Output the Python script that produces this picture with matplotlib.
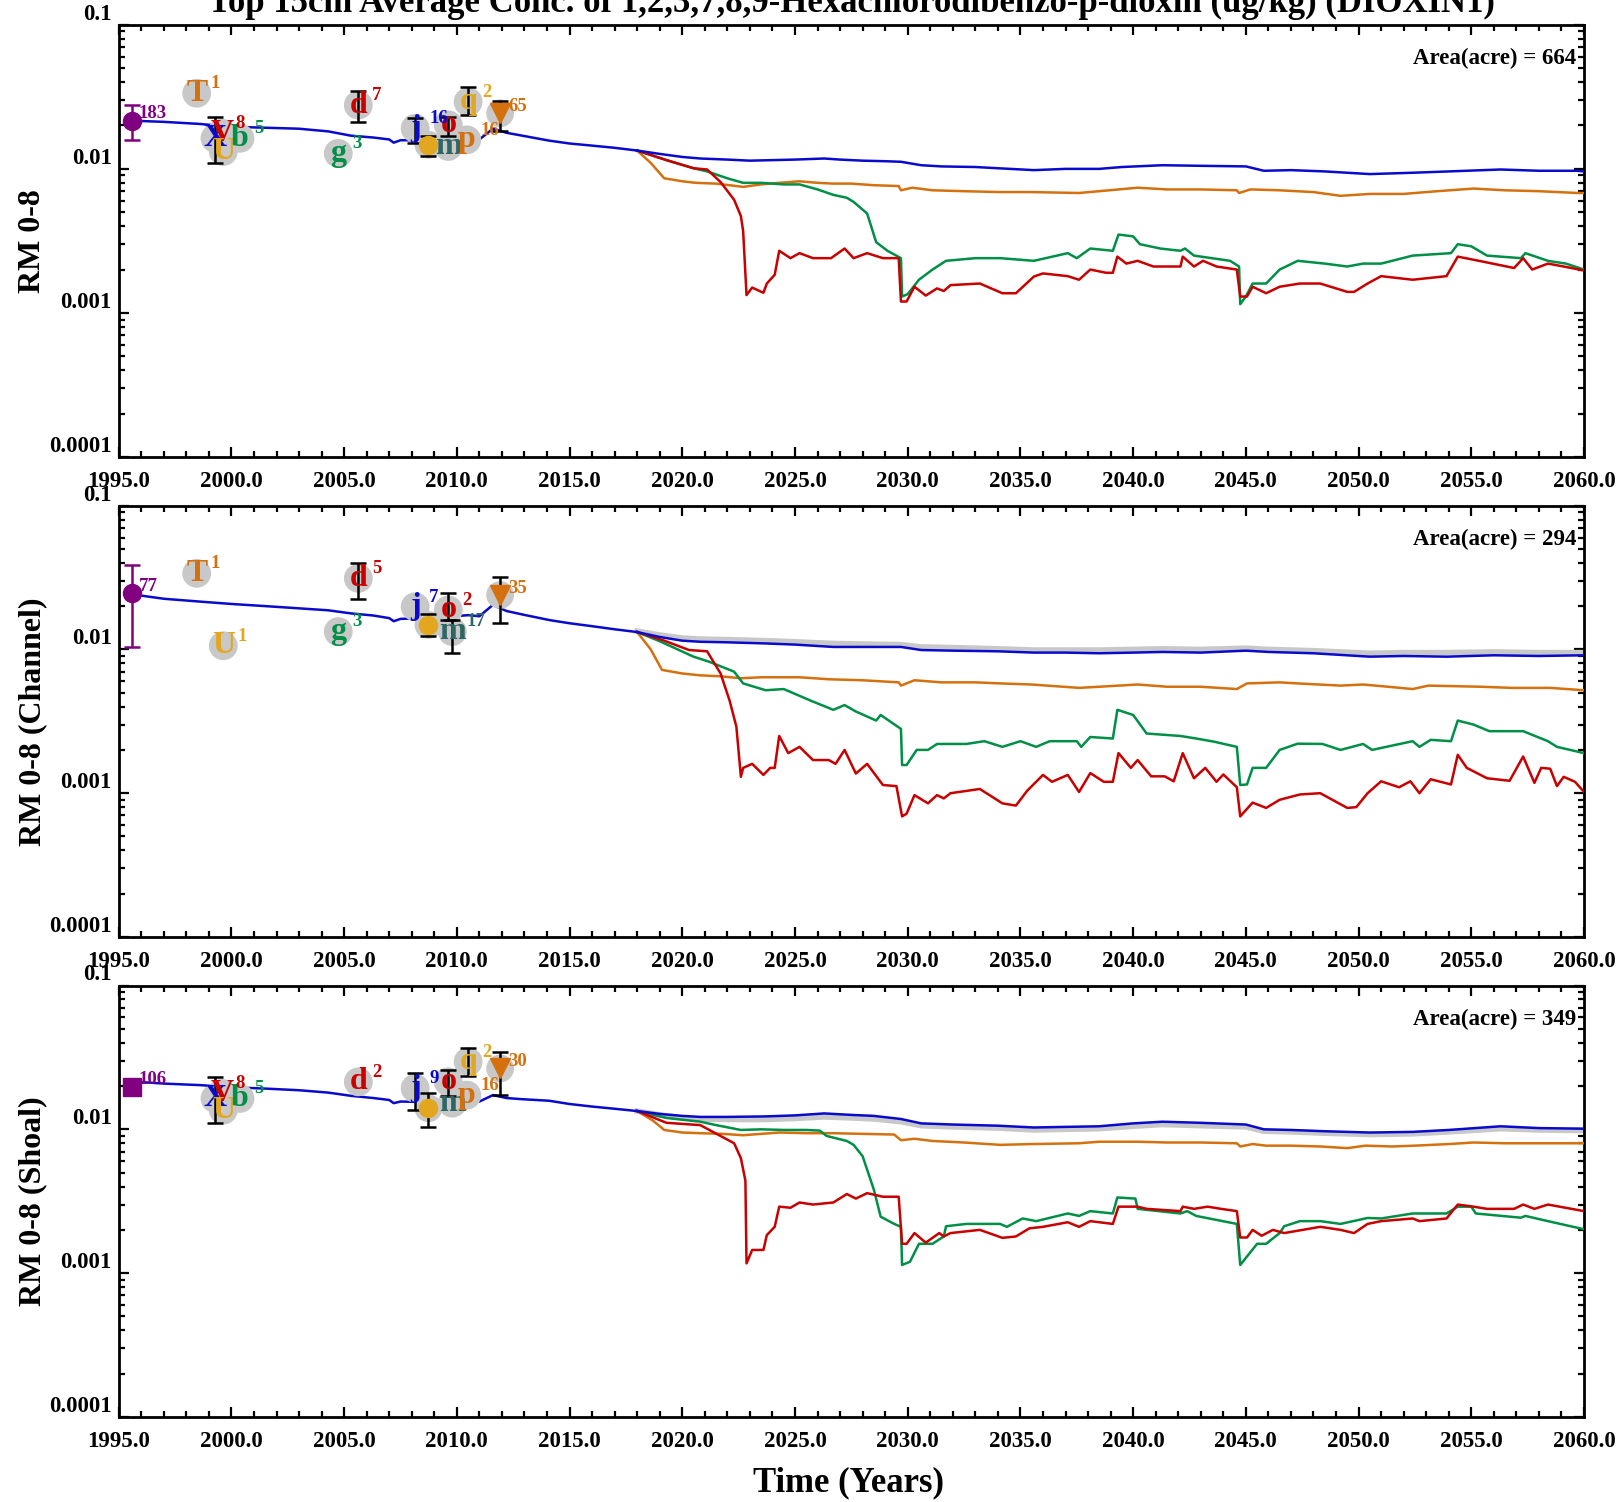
import numpy as np
import matplotlib
matplotlib.use("Agg")
import matplotlib.pyplot as plt
from matplotlib.ticker import FixedLocator, MultipleLocator, FuncFormatter, LogLocator, NullFormatter

plt.rcParams['font.family'] = ['Liberation Serif', 'DejaVu Serif']
plt.rcParams['font.weight'] = 'bold'

nan = np.nan

title = "Top 15cm Average Conc. of 1,2,3,7,8,9-Hexachlorodibenzo-p-dioxin (ug/kg) (DIOXIN1)"
panel_ylabels = ["RM 0-8", "RM 0-8 (Channel)", "RM 0-8 (Shoal)"]
panel_areas = [664, 294, 349]
x_label = "Time (Years)"
y_tick_values = [1e-4, 1e-3, 1e-2, 1e-1]
y_tick_labels = ["0.0001", "0.001", "0.01", "0.1"]

# ---------------- Panel 1 (RM 0-8) ----------------
hist1_t = [1995.6, 1997.0, 1998.6, 2000.0, 2001.5, 2003.0, 2004.3, 2005.3, 2006.3, 2007.0, 2007.2, 2007.5,
           2008.2, 2009.0, 2010.5, 2011.0, 2011.6, 2012.2, 2012.9, 2014.1, 2015.0, 2016.0, 2017.0, 2018.0]
hist1_v = [0.0216, 0.0212, 0.0205, 0.0196, 0.0193, 0.0190, 0.0182, 0.0170, 0.0165, 0.0160, 0.0152, 0.0158,
           0.0158, 0.0160, 0.0163, 0.0160, 0.0190, 0.0178, 0.0170, 0.0157, 0.0150, 0.0145, 0.0140, 0.0134]
blue1_t = [2018, 2019, 2020, 2020.8, 2022, 2023, 2024, 2025, 2026.3, 2027, 2028, 2029, 2029.7, 2030.6, 2031.5,
           2033, 2034, 2035.6, 2037, 2038.5, 2039.5, 2041.3, 2043, 2045.0, 2045.8, 2047, 2048.5, 2050.5, 2052.4,
           2054, 2056.3, 2058, 2059.7, 2060]
blue1_v = [0.0134, 0.0127, 0.0121, 0.0118, 0.0116, 0.0114, 0.0115, 0.0116, 0.0118, 0.0116, 0.0114, 0.0113,
           0.0112, 0.0106, 0.0104, 0.0103, 0.0101, 0.0098, 0.0100, 0.0100, 0.0103, 0.0106, 0.0105, 0.0104,
           0.0097, 0.0098, 0.0096, 0.0092, 0.0094, 0.0096, 0.0099, 0.0097, 0.0097, 0.0096]
orange1_t = [2018, 2018.6, 2019.2, 2020, 2020.6, 2021.5, 2022.7, 2023.5, 2024.3, 2025.2, 2026, 2026.7, 2027.5,
             2028.5, 2029.6, 2029.7, 2030.2, 2031.1, 2032.5, 2034.1, 2035.5, 2037.6, 2038.5, 2040.2, 2041.5,
             2043, 2044.6, 2044.7, 2045.2, 2046.5, 2048, 2049.2, 2050.5, 2052, 2053.5, 2055.1, 2056.5, 2058,
             2059.7, 2060]
orange1_v = [0.0134, 0.0110, 0.0086, 0.0082, 0.0080, 0.0079, 0.0075, 0.0078, 0.0080, 0.0082, 0.0080, 0.0079,
             0.0079, 0.0077, 0.0076, 0.0071, 0.0074, 0.0071, 0.0070, 0.0069, 0.0069, 0.0068, 0.0070, 0.0074,
             0.0072, 0.0072, 0.0071, 0.0068, 0.0072, 0.0071, 0.0069, 0.0065, 0.0067, 0.0067, 0.0070, 0.0073,
             0.0071, 0.0070, 0.0068, 0.0068]
green1_t = [2018, 2019.3, 2020.5, 2021.1, 2022.0, 2022.7, 2023.5, 2024.5, 2025.2, 2026, 2026.7, 2027.3, 2027.6,
            2028.2, 2028.6, 2029.1, 2029.7, 2029.75, 2030.0, 2030.5, 2031.1, 2031.7, 2033, 2034.1, 2035.6,
            2037.1, 2037.5, 2038.1, 2039.1, 2039.35, 2040.0, 2040.3, 2041.2, 2042.1, 2042.3, 2042.7, 2044.3,
            2044.7, 2044.75, 2045.0, 2045.3, 2045.9, 2046.5, 2047.3, 2048.5, 2049.5, 2050.2, 2051, 2052.4,
            2054.1, 2054.4, 2055.0, 2055.7, 2057.2, 2057.4, 2058.4, 2059.2, 2060]
green1_v = [0.0134, 0.0115, 0.0101, 0.0096, 0.0086, 0.0080, 0.0080, 0.0078, 0.0078, 0.0072, 0.0066, 0.0063,
            0.0059, 0.0049, 0.0031, 0.0027, 0.0024, 0.0013, 0.00135, 0.0017, 0.0020, 0.0023, 0.0024, 0.0024,
            0.0023, 0.0026, 0.0024, 0.0028, 0.0027, 0.0035, 0.0034, 0.0030, 0.0028, 0.0027, 0.0028, 0.0025,
            0.0023, 0.0021, 0.00115, 0.0013, 0.0016, 0.0016, 0.0020, 0.0023, 0.0022, 0.0021, 0.0022, 0.0022,
            0.0025, 0.0026, 0.0030, 0.0029, 0.0025, 0.0024, 0.0026, 0.0023, 0.0022, 0.0020]
red1_t = [2018, 2019.3, 2020.5, 2021.1, 2021.7, 2022.3, 2022.6, 2022.7, 2022.85, 2023.1, 2023.6, 2023.75,
          2024.1, 2024.3, 2024.8, 2025.2, 2025.8, 2026.6, 2027.2, 2027.6, 2028.2, 2028.9, 2029.6, 2029.7,
          2029.95, 2030.3, 2030.8, 2031.3, 2031.6, 2031.9, 2033.2, 2034.2, 2034.8, 2035.6, 2036.0, 2037.1,
          2037.6, 2038.1, 2038.8, 2039.1, 2039.3, 2039.7, 2040.2, 2040.9, 2042.1, 2042.2, 2042.7, 2043.1,
          2043.7, 2044.6, 2044.75, 2045.05, 2045.3, 2045.9, 2046.5, 2047.4, 2048.3, 2049.5, 2049.8, 2050.4,
          2051.0, 2052.4, 2053.9, 2054.4, 2055.4, 2056.9, 2057.3, 2057.7, 2058.4, 2059.1, 2060]
red1_v = [0.0134, 0.0115, 0.0101, 0.0099, 0.0081, 0.0061, 0.0047, 0.0037, 0.00133, 0.0015, 0.00138, 0.0016,
          0.00184, 0.0027, 0.0024, 0.0026, 0.0024, 0.0024, 0.0028, 0.0024, 0.0026, 0.0024, 0.0024, 0.0012,
          0.0012, 0.00152, 0.00132, 0.00148, 0.00142, 0.00156, 0.0016, 0.00137, 0.00137, 0.00179, 0.00188,
          0.0018, 0.0017, 0.0020, 0.0019, 0.0019, 0.00246, 0.0022, 0.0023, 0.0021, 0.0021, 0.00246, 0.0021,
          0.0023, 0.0021, 0.0020, 0.0013, 0.0013, 0.00152, 0.00137, 0.00152, 0.0016, 0.0016, 0.0014, 0.0014,
          0.0016, 0.0018, 0.0017, 0.0018, 0.00246, 0.00229, 0.00205, 0.0024, 0.0020, 0.0022, 0.0021, 0.00197]

# ---------------- Panel 2 (Channel) ----------------
hist2_t = [1995.8, 1997.0, 1998.6, 2000.0, 2001.5, 2003.0, 2004.3, 2005.3, 2006.3, 2007.0, 2007.2, 2007.5,
           2008.5, 2009.5, 2010.5, 2011.0, 2011.6, 2012.2, 2012.9, 2014.1, 2015.0, 2016.0, 2017.0, 2018.0]
hist2_v = [0.0239, 0.0225, 0.0215, 0.0207, 0.0200, 0.0193, 0.0187, 0.0178, 0.0172, 0.0165, 0.0157, 0.0163,
           0.0165, 0.0168, 0.0173, 0.0170, 0.0204, 0.0185, 0.0175, 0.0160, 0.0152, 0.0145, 0.0138, 0.0132]
blue2_t = [2018, 2019, 2020, 2020.8, 2022, 2023.7, 2025, 2026.7, 2028, 2029.7, 2030.6, 2032, 2034, 2035.6,
           2037, 2038.5, 2040, 2041.3, 2043, 2045.0, 2046, 2048, 2050.5, 2052, 2053.9, 2056, 2058, 2060]
blue2_v = [0.0132, 0.0122, 0.0115, 0.0113, 0.0112, 0.0110, 0.0108, 0.0104, 0.0104, 0.0104, 0.0099, 0.0098,
           0.0097, 0.0095, 0.0095, 0.0094, 0.0095, 0.0096, 0.0095, 0.0098, 0.0096, 0.0094, 0.0089, 0.0090,
           0.0089, 0.0091, 0.0090, 0.0091]
gray2_v = [0.0134, 0.0126, 0.0120, 0.0118, 0.0117, 0.0115, 0.0113, 0.0110, 0.0109, 0.0108, 0.0104, 0.0103,
           0.0101, 0.0099, 0.0099, 0.0099, 0.0100, 0.0101, 0.0100, 0.0102, 0.0100, 0.0098, 0.0094, 0.0095,
           0.0095, 0.0096, 0.0095, 0.0095]
orange2_t = [2018, 2018.6, 2019.1, 2020, 2020.8, 2021.7, 2022.6, 2023.5, 2025.2, 2026.5, 2028, 2029.6, 2029.7,
             2030.3, 2031.5, 2033, 2034.1, 2035.5, 2037.6, 2038.5, 2040.2, 2041.5, 2043, 2044.6, 2045.05,
             2046.5, 2047.3, 2049.2, 2050.2, 2051.3, 2052.4, 2053.1, 2055.4, 2056.8, 2058.5, 2060]
orange2_v = [0.0132, 0.0100, 0.0072, 0.0068, 0.0066, 0.0065, 0.0063, 0.0064, 0.0064, 0.0062, 0.0061, 0.0059,
             0.0056, 0.0061, 0.0059, 0.0059, 0.0058, 0.0057, 0.0054, 0.0055, 0.0057, 0.0055, 0.0055, 0.0053,
             0.0058, 0.0059, 0.0058, 0.0056, 0.0057, 0.0055, 0.0053, 0.0056, 0.0055, 0.0054, 0.0054, 0.0052]
green2_t = [2018, 2019.0, 2020.5, 2021.2, 2022.3, 2022.7, 2023.7, 2024.5, 2025.7, 2026.7, 2027.2, 2027.7,
            2028.6, 2028.8, 2029.7, 2029.75, 2029.95, 2030.4, 2030.9, 2031.3, 2032.6, 2033.4, 2034.2, 2035.0,
            2035.7, 2036.3, 2037.5, 2037.7, 2038.1, 2039.1, 2039.3, 2040.0, 2040.6, 2042.1, 2042.8, 2043.6,
            2044.6, 2044.75, 2045.05, 2045.3, 2045.9, 2046.5, 2047.3, 2048.4, 2049.2, 2050.2, 2050.6, 2052.4,
            2052.7, 2053.2, 2054.1, 2054.4, 2055.1, 2055.8, 2057.3, 2058.4, 2058.8, 2060]
green2_v = [0.0132, 0.0114, 0.0089, 0.0082, 0.0070, 0.0058, 0.0052, 0.0053, 0.0044, 0.0038, 0.0041, 0.0037,
            0.0032, 0.0035, 0.0028, 0.00157, 0.00157, 0.0020, 0.0020, 0.0022, 0.0022, 0.0023, 0.0021, 0.0023,
            0.0021, 0.0023, 0.0023, 0.0021, 0.00246, 0.0024, 0.0038, 0.0035, 0.0026, 0.0025, 0.0024, 0.00228,
            0.0021, 0.00114, 0.00115, 0.0015, 0.0015, 0.0020, 0.00221, 0.0022, 0.0020, 0.0022, 0.0020, 0.0023,
            0.0021, 0.00235, 0.0023, 0.0032, 0.0030, 0.0027, 0.0027, 0.0023, 0.0021, 0.0019]
red2_t = [2018, 2019.2, 2020.3, 2021.1, 2021.7, 2022.1, 2022.4, 2022.6, 2022.7, 2023.1, 2023.6, 2023.9, 2024.1,
          2024.3, 2024.7, 2025.2, 2025.8, 2026.5, 2026.8, 2027.2, 2027.7, 2028.2, 2028.9, 2029.5, 2029.75,
          2029.95, 2030.3, 2030.9, 2031.3, 2031.6, 2031.9, 2033.2, 2034.2, 2034.8, 2035.3, 2036.0, 2036.4,
          2037.1, 2037.6, 2038.1, 2038.7, 2039.1, 2039.35, 2039.9, 2040.2, 2040.8, 2041.4, 2041.8, 2042.2,
          2042.7, 2043.2, 2043.7, 2044.0, 2044.6, 2044.75, 2045.3, 2045.9, 2046.5, 2047.4, 2048.3, 2049.5,
          2049.9, 2050.4, 2051.0, 2051.8, 2052.3, 2052.7, 2053.2, 2054.1, 2054.4, 2054.8, 2055.7, 2056.7,
          2057.3, 2057.8, 2058.1, 2058.5, 2058.8, 2059.1, 2059.6, 2060]
red2_v = [0.0132, 0.0115, 0.0099, 0.0097, 0.0068, 0.0044, 0.0029, 0.0013, 0.0015, 0.0016, 0.00134, 0.0015,
          0.0015, 0.0025, 0.0019, 0.0021, 0.0017, 0.0017, 0.0016, 0.0020, 0.00137, 0.0016, 0.00114, 0.00112,
          0.00069, 0.00072, 0.00097, 0.00085, 0.00097, 0.00092, 0.0010, 0.00107, 0.00085, 0.00082, 0.00104,
          0.00134, 0.0012, 0.00134, 0.00102, 0.00138, 0.0012, 0.0012, 0.0019, 0.0015, 0.0017, 0.00131,
          0.00131, 0.00121, 0.0019, 0.00127, 0.0015, 0.0012, 0.00135, 0.0011, 0.00069, 0.00086, 0.00079,
          0.00090, 0.00098, 0.00100, 0.00079, 0.00080, 0.00100, 0.00121, 0.00110, 0.00121, 0.00100, 0.00125,
          0.00115, 0.00185, 0.0015, 0.00127, 0.00122, 0.0018, 0.00118, 0.0015, 0.00148, 0.00112, 0.0013,
          0.0012, 0.00102]

# ---------------- Panel 3 (Shoal) ----------------
hist3_t = [1995.8, 1997.0, 1998.6, 2000.0, 2001.5, 2003.0, 2004.3, 2005.3, 2006.3, 2007.0, 2007.2, 2007.5,
           2008.5, 2009.5, 2010.5, 2011.0, 2011.6, 2012.2, 2012.9, 2014.1, 2015.0, 2016.0, 2017.0, 2018.0]
hist3_v = [0.0214, 0.0208, 0.0203, 0.0196, 0.0192, 0.0187, 0.0180, 0.0171, 0.0165, 0.0160, 0.0152, 0.0156,
           0.0155, 0.0157, 0.0158, 0.0156, 0.0173, 0.0165, 0.0162, 0.0158, 0.0150, 0.0144, 0.0139, 0.0134]
blue3_t = [2018, 2019, 2020, 2020.8, 2022, 2023.7, 2025, 2026.3, 2027.5, 2028.5, 2029.7, 2030.6, 2032, 2034,
           2035.6, 2037, 2038.5, 2040, 2041.3, 2043, 2045.0, 2045.8, 2047, 2048.5, 2050.5, 2052.4, 2054,
           2056.3, 2058, 2060]
blue3_v = [0.0134, 0.0128, 0.0124, 0.0122, 0.0122, 0.0123, 0.0125, 0.0129, 0.0126, 0.0124, 0.0118, 0.0110,
           0.0108, 0.0106, 0.0103, 0.0104, 0.0105, 0.0110, 0.0113, 0.0111, 0.0108, 0.0100, 0.0099, 0.0097,
           0.0095, 0.0096, 0.0099, 0.0105, 0.0102, 0.0101]
gray3_v = [0.0134, 0.0126, 0.0120, 0.0118, 0.0117, 0.0117, 0.0119, 0.0122, 0.0120, 0.0118, 0.0113, 0.0106,
           0.0104, 0.0102, 0.0099, 0.0100, 0.0101, 0.0105, 0.0108, 0.0106, 0.0104, 0.0097, 0.0096, 0.0094,
           0.0092, 0.0093, 0.0096, 0.0101, 0.0099, 0.0098]
orange3_t = [2018, 2018.7, 2019.2, 2020, 2020.8, 2021.8, 2022.7, 2023.5, 2024.3, 2025.5, 2026.7, 2028, 2029.4,
             2029.7, 2030.3, 2031.1, 2032.5, 2034.1, 2035.5, 2037.6, 2038.5, 2040.2, 2041.5, 2043, 2044.6,
             2044.75, 2045.3, 2045.9, 2047, 2048.3, 2049.5, 2050.3, 2051.5, 2052.5, 2054, 2055.1, 2056.5,
             2058, 2060]
orange3_v = [0.0134, 0.0115, 0.0099, 0.0095, 0.0094, 0.0093, 0.0091, 0.0093, 0.0095, 0.0094, 0.0094, 0.0093,
             0.0092, 0.0084, 0.0086, 0.0083, 0.0081, 0.0078, 0.0079, 0.0080, 0.0082, 0.0082, 0.0081, 0.0081,
             0.0080, 0.0076, 0.0079, 0.0077, 0.0077, 0.0076, 0.0074, 0.0077, 0.0076, 0.0077, 0.0079, 0.0081,
             0.0080, 0.0080, 0.0080]
green3_t = [2018, 2019.3, 2020.8, 2021.5, 2022.6, 2023.5, 2024.5, 2025.5, 2026.1, 2026.4, 2027.3, 2027.6,
            2028.0, 2028.5, 2028.8, 2029.4, 2029.7, 2029.75, 2030.1, 2030.5, 2031.1, 2031.6, 2031.7, 2032.6,
            2034.1, 2034.4, 2035.1, 2035.7, 2037.1, 2037.6, 2038.1, 2039.1, 2039.3, 2040.1, 2040.2, 2042.1,
            2042.4, 2042.8, 2044.6, 2044.75, 2045.5, 2045.9, 2046.5, 2046.7, 2047.4, 2048.3, 2049.2, 2050.4,
            2051.0, 2052.4, 2053.9, 2054.4, 2055.0, 2055.2, 2057.2, 2057.4, 2058.4, 2060]
green3_v = [0.0134, 0.0120, 0.0113, 0.0107, 0.0099, 0.0100, 0.0099, 0.0099, 0.0098, 0.0090, 0.0083, 0.0078,
            0.0065, 0.0038, 0.00247, 0.0022, 0.0021, 0.00114, 0.0012, 0.0016, 0.0016, 0.0018, 0.00212, 0.0022,
            0.0022, 0.0021, 0.0024, 0.0023, 0.0026, 0.0025, 0.0027, 0.0026, 0.00336, 0.0033, 0.0028, 0.0026,
            0.0027, 0.0025, 0.0022, 0.00114, 0.0016, 0.0016, 0.0019, 0.00212, 0.0023, 0.0023, 0.0022, 0.00242,
            0.0024, 0.0026, 0.0026, 0.0029, 0.0029, 0.0026, 0.00243, 0.0025, 0.0023, 0.00202]
red3_t = [2018, 2019.3, 2020.8, 2021.2, 2022.3, 2022.6, 2022.8, 2022.85, 2023.1, 2023.6, 2023.75, 2024.1,
          2024.3, 2024.8, 2025.2, 2025.8, 2026.7, 2027.3, 2027.7, 2028.2, 2028.9, 2029.6, 2029.75, 2029.95,
          2030.3, 2030.8, 2031.4, 2031.6, 2031.9, 2033.2, 2034.2, 2034.8, 2035.4, 2036.0, 2037.1, 2037.6,
          2038.1, 2039.1, 2039.35, 2040.2, 2040.6, 2042.1, 2042.2, 2042.7, 2043.3, 2043.9, 2044.6, 2044.75,
          2045.05, 2045.3, 2045.7, 2046.2, 2046.7, 2048.3, 2049.2, 2049.8, 2050.4, 2051.0, 2052.4, 2052.7,
          2053.9, 2054.4, 2055.1, 2055.7, 2056.9, 2057.3, 2057.8, 2058.4, 2060]
red3_v = [0.0134, 0.0111, 0.0107, 0.0099, 0.0080, 0.0063, 0.0044, 0.00117, 0.00145, 0.00145, 0.00184, 0.0021,
          0.0029, 0.00285, 0.0031, 0.0030, 0.0031, 0.00355, 0.0033, 0.0036, 0.0034, 0.0034, 0.0016, 0.0016,
          0.0019, 0.00163, 0.0019, 0.0018, 0.0019, 0.0020, 0.00176, 0.0018, 0.00205, 0.0021, 0.00226, 0.0021,
          0.0023, 0.0022, 0.0029, 0.0029, 0.0028, 0.0027, 0.0029, 0.0028, 0.0029, 0.0028, 0.0027, 0.00177,
          0.00177, 0.0020, 0.00182, 0.0020, 0.0019, 0.0021, 0.0020, 0.0019, 0.0022, 0.0023, 0.0024, 0.0023,
          0.0024, 0.0030, 0.0029, 0.0028, 0.0028, 0.0030, 0.0028, 0.0030, 0.0027]

# ---------------- Observations ----------------
obs1_labels = ['T', 'X', 'V', 'U', 'b', 'd', 'g', 'j', 'o', 'm', 'p', 'q']
obs1_years = [1998.46, 1999.27, 1999.57, 1999.64, 2000.38, 2005.63, 2004.74, 2008.15, 2009.62, 2009.62, 2010.44, 2010.5]
obs1_vals = [0.0335, 0.0163, 0.0177, 0.0132, 0.0163, 0.0277, 0.0128, 0.0191, 0.0202, 0.0143, 0.0159, 0.0292]
obs1_counts = ['1', '', '8', '', '5', '7', '3', '16', '', '', '16', '2']
obs1_lo = [nan, 0.0109, nan, nan, nan, 0.0213, nan, 0.0150, 0.0170, nan, nan, 0.0235]
obs1_hi = [nan, 0.0230, nan, nan, nan, 0.0349, nan, 0.0224, 0.0230, nan, nan, 0.0368]
spec1 = {'purple': (1995.58, 0.0216, 0.0159, 0.0277, '183'), 'yellow': (2008.74, 0.0147, 0.0122, 0.0170),
         'tri': (2011.92, 0.0243, 0.0184, 0.0297, '65')}

obs2_labels = ['T', 'U', 'd', 'g', 'j', 'o', 'm']
obs2_years = [1998.46, 1999.64, 2005.63, 2004.74, 2008.15, 2009.62, 2009.8]
obs2_vals = [0.0338, 0.0106, 0.0312, 0.0133, 0.0198, 0.0188, 0.0133]
obs2_counts = ['1', '1', '5', '3', '7', '2', '17']
obs2_lo = [nan, nan, 0.0223, nan, nan, 0.0160, 0.0094]
obs2_hi = [nan, nan, 0.0401, nan, nan, 0.0245, 0.0160]
spec2 = {'purple': (1995.58, 0.0245, 0.01045, 0.0386, '77'), 'yellow': (2008.74, 0.0148, 0.0123, 0.0175),
         'tri': (2011.92, 0.0239, 0.0152, 0.0317, '35')}

obs3_labels = ['X', 'V', 'U', 'b', 'd', 'j', 'o', 'm', 'p', 'q']
obs3_years = [1999.27, 1999.57, 1999.64, 2000.38, 2005.63, 2008.15, 2009.62, 2009.8, 2010.44, 2010.5]
obs3_vals = [0.0164, 0.0178, 0.0136, 0.0164, 0.0214, 0.0193, 0.0214, 0.0152, 0.0173, 0.0295]
obs3_counts = ['', '8', '', '5', '2', '9', '', '', '16', '2']
obs3_lo = [0.0111, nan, nan, nan, nan, 0.0136, 0.0170, nan, nan, 0.0236]
obs3_hi = [0.0232, nan, nan, nan, nan, 0.0245, 0.0258, nan, nan, 0.0366]
spec3 = {'purple': (1995.58, 0.0198, nan, nan, '106'), 'yellow': (2008.74, 0.0140, 0.0103, 0.0178),
         'tri': (2011.92, 0.0265, 0.0173, 0.0347, '30')}

# ---------------- Styles ----------------
C_BLUE = '#0A0ACC'
C_ORANGE = '#D5700F'
C_GREEN = '#008F47'
C_RED = '#C80000'
C_GRAY = '#C8C8C8'
C_PURPLE = '#800080'
C_YELLOW = '#E3A71F'
C_TEAL = '#2E6565'
letter_colors = {'T': C_ORANGE, 'X': C_BLUE, 'V': C_RED, 'U': C_YELLOW, 'b': C_GREEN, 'd': C_RED,
                 'g': C_GREEN, 'j': C_BLUE, 'o': C_RED, 'm': C_TEAL, 'p': C_ORANGE, 'q': C_YELLOW}

panels = [
    dict(hist=(hist1_t, hist1_v), blue=(blue1_t, blue1_v), gray=None, orange=(orange1_t, orange1_v),
         green=(green1_t, green1_v), red=(red1_t, red1_v),
         obs=(obs1_labels, obs1_years, obs1_vals, obs1_counts, obs1_lo, obs1_hi), spec=spec1, square=False),
    dict(hist=(hist2_t, hist2_v), blue=(blue2_t, blue2_v), gray=(blue2_t, gray2_v), orange=(orange2_t, orange2_v),
         green=(green2_t, green2_v), red=(red2_t, red2_v),
         obs=(obs2_labels, obs2_years, obs2_vals, obs2_counts, obs2_lo, obs2_hi), spec=spec2, square=False),
    dict(hist=(hist3_t, hist3_v), blue=(blue3_t, blue3_v), gray=(blue3_t, gray3_v), orange=(orange3_t, orange3_v),
         green=(green3_t, green3_v), red=(red3_t, red3_v),
         obs=(obs3_labels, obs3_years, obs3_vals, obs3_counts, obs3_lo, obs3_hi), spec=spec3, square=True),
]

W, H = 1618, 1502
fig = plt.figure(figsize=(W / 100, H / 100), dpi=100)
left_px, right_px = 118.7, 1584
tops = [24.8, 505.6, 985.5]
bots = [457, 937, 1417]


def sup(ax, x, y, s, color, dx=10, dy=7):
    if s:
        ax.annotate(s, (x, y), xytext=(dx, dy), textcoords='offset points', color=color, fontsize=13.5,
                    fontweight='bold', ha='left', va='center', zorder=7)


for i, p in enumerate(panels):
    ax = fig.add_axes([left_px / W, 1 - bots[i] / H, (right_px - left_px) / W, (bots[i] - tops[i]) / H])
    ax.set_yscale('log')
    ax.set_xlim(1995, 2060)
    ax.set_ylim(1e-4, 0.1)

    lw = 1.8
    if p['gray'] is not None:
        ax.plot(p['gray'][0], p['gray'][1], color=C_GRAY, lw=4.0, zorder=2, solid_joinstyle='round')
    ax.plot(p['orange'][0], p['orange'][1], color=C_ORANGE, lw=lw, zorder=3)
    ax.plot(p['green'][0], p['green'][1], color=C_GREEN, lw=lw, zorder=3)
    ax.plot(p['red'][0], p['red'][1], color=C_RED, lw=lw, zorder=3)
    ax.plot(p['hist'][0], p['hist'][1], color=C_BLUE, lw=lw, zorder=3)
    ax.plot(p['blue'][0], p['blue'][1], color=C_BLUE, lw=lw, zorder=3)

    labels, years, vals, counts, lo, hi = p['obs']
    sp = p['spec']
    # gray disks behind letter markers and symbol markers
    ax.scatter(years, vals, s=430, color=C_GRAY, edgecolor='none', zorder=4)
    ax.scatter([sp['yellow'][0], sp['tri'][0]], [sp['yellow'][1], sp['tri'][1]], s=400, color=C_GRAY,
               edgecolor='none', zorder=4)
    # error bars
    for x, v, l_, h_ in zip(years, vals, lo, hi):
        if not np.isnan(l_):
            ax.errorbar([x], [v], yerr=[[v - l_], [h_ - v]], fmt='none', ecolor='black', elinewidth=1.8,
                        capsize=6, capthick=1.8, zorder=5)
    for key in ('yellow', 'tri'):
        x, v, l_, h_ = sp[key][:4]
        ax.errorbar([x], [v], yerr=[[v - l_], [h_ - v]], fmt='none', ecolor='black', elinewidth=1.8,
                    capsize=6, capthick=1.8, zorder=5)
    px, pv, pl, ph, pc = sp['purple']
    if not np.isnan(pl):
        ax.errorbar([px], [pv], yerr=[[pv - pl], [ph - pv]], fmt='none', ecolor=C_PURPLE, elinewidth=1.8,
                    capsize=6, capthick=1.8, zorder=5)
    ax.plot([px], [pv], marker='s' if p['square'] else 'o', ms=13, color=C_PURPLE, zorder=6, ls='none')
    sup(ax, px, pv, pc, C_PURPLE, dx=5, dy=5)

    # letters
    for lab, x, v, c in zip(labels, years, vals, counts):
        col = letter_colors[lab]
        ax.text(x, v, lab, color=col, fontsize=23, fontweight='bold', ha='center', va='center', zorder=6)
        sup(ax, x, v, c, col)
    # yellow circle and triangle
    ax.plot([sp['yellow'][0]], [sp['yellow'][1]], marker='o', ms=13, color=C_YELLOW, ls='none', zorder=6)
    ax.plot([sp['tri'][0]], [sp['tri'][1]], marker='v', ms=14, color=C_ORANGE, ls='none', zorder=6)
    sup(ax, sp['tri'][0], sp['tri'][1], sp['tri'][4], C_ORANGE, dx=6, dy=5)

    # axes styling
    for s in ax.spines.values():
        s.set_linewidth(2.0)
    ax.xaxis.set_major_locator(MultipleLocator(5))
    ax.xaxis.set_minor_locator(MultipleLocator(1))
    ax.xaxis.set_major_formatter(FuncFormatter(lambda x, _: f"{x:.1f}"))
    ax.yaxis.set_major_locator(FixedLocator(y_tick_values))
    ax.set_yticklabels(y_tick_labels)
    ax.yaxis.set_minor_locator(LogLocator(base=10, subs=np.arange(2, 10)))
    ax.yaxis.set_minor_formatter(NullFormatter())
    ax.tick_params(which='both', direction='in', top=True, right=True, width=1.6)
    ax.tick_params(which='major', length=7, labelsize=16.5)
    ax.tick_params(which='minor', length=4)
    ax.tick_params(axis='x', which='major', pad=10)
    ax.tick_params(axis='y', which='major', pad=5)
    for lab in ax.get_yticklabels():
        lab.set_verticalalignment('bottom')
        lab.set_fontweight('bold')
    for lab in ax.get_xticklabels():
        lab.set_fontweight('bold')

    ax.set_ylabel(panel_ylabels[i], fontsize=23, fontweight='bold')
    ax.yaxis.set_label_coords(-0.049, 0.5)
    ax.text(0.9945, 0.921, f"Area(acre) = {panel_areas[i]}", transform=ax.transAxes, ha='right', va='center',
            fontsize=16.5, fontweight='bold')

fig.text(851 / W, 1 - 12 / H, title, ha='center', va='baseline', fontsize=25, fontweight='bold')
fig.text(849 / W, 1 - 1483 / H, x_label, ha='center', va='center', fontsize=25, fontweight='bold')

fig.savefig('out.png', dpi=100)
